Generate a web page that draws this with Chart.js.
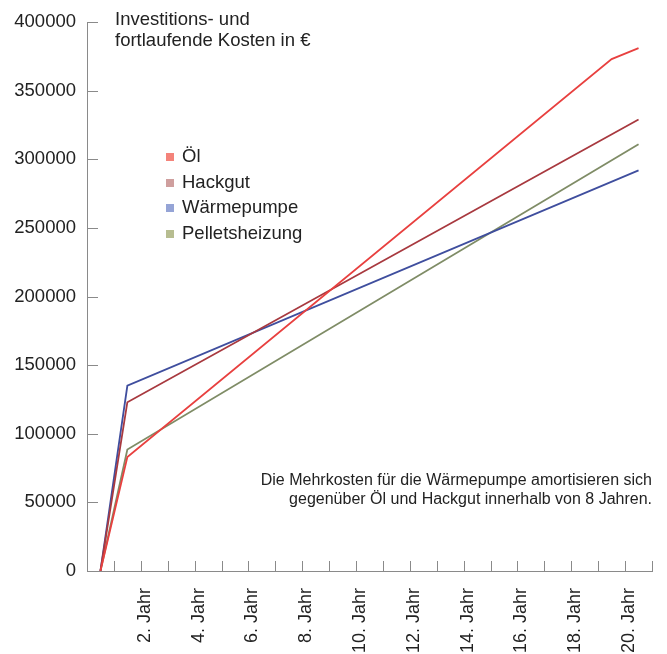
<!DOCTYPE html>
<html><head><meta charset="utf-8">
<script src="https://cdn.jsdelivr.net/npm/chart.js@4.4.0/dist/chart.umd.min.js"></script>
<style>html,body{margin:0;padding:0;background:#fff;}#wrap{width:667px;height:654px;}</style>
</head><body><div id="wrap"><canvas id="c" width="667" height="654"></canvas></div>
<script>
const seriesNames = ['Öl', 'Hackgut', 'Wärmepumpe', 'Pelletsheizung'];
const oelYears = [0, 1, 19, 20];
const oelValues = [0, 83000, 373000, 381000];
const hackgutYears = [0, 1, 20];
const hackgutValues = [0, 123000, 329000];
const waermepumpeYears = [0, 1, 20];
const waermepumpeValues = [0, 135000, 292000];
const pelletsYears = [0, 1, 20];
const pelletsValues = [0, 88500, 311000];
const yTickValues = [0, 50000, 100000, 150000, 200000, 250000, 300000, 350000, 400000];
const xLabelYears = [2, 4, 6, 8, 10, 12, 14, 16, 18, 20];
const titleLines = ['Investitions- und', 'fortlaufende Kosten in €'];
const noteLines = ['Die Mehrkosten für die Wärmepumpe amortisieren sich', 'gegenüber Öl und Hackgut innerhalb von 8 Jahren.'];

const lineColors = ['#e8403f', '#a8393f', '#3f4e9e', '#7f8c66'];
const legendColors = ['#f4837a', '#cf9f9e', '#95a4d6', '#b7bd90'];
const FONT = '"Liberation Sans", Arial, sans-serif';

function pts(xs, ys) { return xs.map((x, i) => ({x: x, y: ys[i]})); }
const allSeries = [pts(oelYears, oelValues), pts(hackgutYears, hackgutValues), pts(waermepumpeYears, waermepumpeValues), pts(pelletsYears, pelletsValues)];

const tickMarks = {
  id: 'tickMarks',
  beforeDatasetsDraw(chart) {
    const ctx = chart.ctx, xs = chart.scales.x, ys = chart.scales.y, a = chart.chartArea;
    ctx.save();
    ctx.strokeStyle = '#8a8a8a';
    ctx.lineWidth = 1;
    ctx.beginPath();
    xs.ticks.forEach(t => {
      if (t.value < 0) return;
      const px = Math.round(xs.getPixelForValue(t.value)) + 0.5;
      ctx.moveTo(px, a.bottom); ctx.lineTo(px, a.bottom - 10);
    });
    ys.ticks.forEach(t => {
      const py = Math.round(ys.getPixelForValue(t.value)) + 0.5;
      ctx.moveTo(a.left, py); ctx.lineTo(a.left + 11, py);
    });
    ctx.stroke();
    ctx.restore();
  }
};

const texts = {
  id: 'texts',
  afterDraw(chart) {
    const ctx = chart.ctx;
    ctx.save();
    ctx.fillStyle = '#222';
    ctx.textBaseline = 'middle';
    ctx.textAlign = 'left';
    ctx.font = '18.5px ' + FONT;
    ctx.fillText(titleLines[0], 115, 20);
    ctx.fillText(titleLines[1], 115, 41);
    const rows = [157, 183, 208, 234];
    seriesNames.forEach((n, i) => {
      ctx.fillStyle = legendColors[i];
      ctx.fillRect(166, rows[i] - 4, 8, 8);
      ctx.fillStyle = '#222';
      ctx.fillText(n, 182, rows[i]);
    });
    ctx.textAlign = 'right';
    ctx.font = '16px ' + FONT;
    ctx.fillText(noteLines[0], 652, 481);
    ctx.fillText(noteLines[1], 652, 500);
    ctx.restore();
  }
};

new Chart(document.getElementById('c'), {
  type: 'line',
  data: {
    datasets: seriesNames.map((n, i) => ({
      label: n,
      data: allSeries[i],
      borderColor: lineColors[i],
      backgroundColor: lineColors[i],
      borderWidth: 1.8,
      pointRadius: 0,
      tension: 0,
      fill: false
    }))
  },
  options: {
    responsive: false,
    animation: false,
    devicePixelRatio: 1,
    layout: {padding: {top: 19, right: 15, left: 0, bottom: 0}},
    plugins: {legend: {display: false}, tooltip: {enabled: false}},
    scales: {
      x: {
        type: 'linear', min: -0.5, max: 20.5,
        afterBuildTicks(s) { const t = []; for (let v = -0.5; v <= 20.5; v += 1) t.push({value: v}); s.ticks = t; },
        afterFit(s) { s.height = 83; s.paddingLeft = 0; s.paddingRight = 0; },
        grid: {display: false, drawTicks: false},
        border: {display: true, color: '#8a8a8a', width: 1},
        ticks: {
          autoSkip: false, maxRotation: 90, minRotation: 90, padding: 17, labelOffset: 4,
          color: '#222', font: {family: FONT, size: 18},
          callback(v) { const yr = Math.round(v + 0.5); return xLabelYears.includes(yr) ? yr + '. Jahr' : ''; }
        }
      },
      y: {
        min: 0, max: 400000,
        afterBuildTicks(s) { s.ticks = yTickValues.map(v => ({value: v})); },
        afterFit(s) { s.width = 87; },
        grid: {display: false, drawTicks: false},
        border: {display: true, color: '#8a8a8a', width: 1},
        ticks: {padding: 11, color: '#222', font: {family: FONT, size: 18.5}, callback(v) { return String(v); }}
      }
    }
  },
  plugins: [tickMarks, texts]
});
</script></body></html>
